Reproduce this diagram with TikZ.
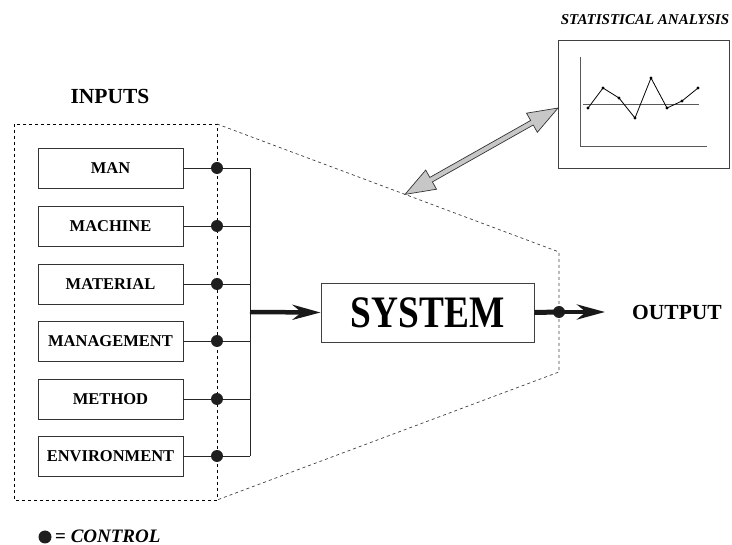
\documentclass[tikz,border=0pt]{standalone}
\usepackage{fontspec}
\setmainfont{Liberation Serif}
\usetikzlibrary{calc,arrows.meta}
\begin{document}
\begin{tikzpicture}[x=1pt,y=-1pt,
  inbox/.style={draw=black!80, line width=0.8pt, minimum width=145pt, minimum height=40pt, inner sep=0pt, font=\fontsize{16.5}{17}\selectfont\bfseries},
  ctrl/.style={circle, fill=black!88, minimum size=12pt, inner sep=0pt},
  wire/.style={line width=0.9pt, black!85},
  bigarrow/.style={line width=4.5pt, black!90, -{Stealth[length=28pt,width=15pt,inset=9pt]}},
  lbl/.style={font=\fontsize{21.5}{22}\selectfont\bfseries},
  dashline/.style={dash pattern=on 3pt off 3pt, line width=0.7pt}]
\useasboundingbox (0,0) rectangle (732,545);

% dashed enclosure
\draw[dashline, black] (14,124) rectangle (217,500);
\draw[dashline, black!75] (217,124) -- (559,252) -- (559,372) -- (217,500);

% labels
\node[lbl] (inputs) at (110,96) {INPUTS};
\node[lbl] (output) at (677,312) {OUTPUT};

% input boxes
\node[inbox] (man)  at (110.5,168) {MAN};
\node[inbox] (mach) at (110.5,226) {MACHINE};
\node[inbox] (mat)  at (110.5,284) {MATERIAL};
\node[inbox] (mgmt) at (110.5,341) {MANAGEMENT};
\node[inbox] (meth) at (110.5,399) {METHOD};
\node[inbox] (env)  at (110.5,456) {ENVIRONMENT};

% bus
\coordinate (bustop) at (250,168);
\coordinate (busbot) at (250,456);
\coordinate (busmid) at (250,312);
\draw[wire] (bustop) -- (busbot);
\foreach \b in {man,mach,mat,mgmt,meth,env}{
  \draw[wire] (\b.east) -- (\b.east -| busmid);
}
\foreach \b/\d in {man/d1,mach/d2,mat/d3,mgmt/d4,meth/d5,env/d6}{
  \node[ctrl] (\d) at (\b.east -| 217,0) {};
}

% system
\node[draw=black!75, line width=0.9pt, minimum width=213pt, minimum height=59pt, inner sep=0pt] (sys) at (427.5,312.5)
  {\scalebox{0.83}[1]{\fontsize{45}{45}\selectfont\bfseries SYSTEM}};
\draw[bigarrow] (busmid) -- (sys.west);
\node[ctrl] (dout) at (559,312) {};
\draw[line width=5pt, black!90] (sys.east) -- (dout.center);
\draw[bigarrow] (dout.center) -- (605,312) coordinate (outtip);

% statistical analysis
\node[font=\fontsize{15}{15}\selectfont\bfseries\itshape] (stattitle) at (645,20) {STATISTICAL ANALYSIS};
\node[draw=black!75, line width=0.9pt, minimum width=171pt, minimum height=128pt, inner sep=0pt] (stat) at (644,104) {};
\draw[black!65, line width=0.8pt] (580,57) -- (580,146) -- (707,146);
\draw[black!65, line width=0.8pt] (583,104) -- (699,104);
\draw[black, line width=0.8pt] (588,108) -- (603,88) -- (619,98) -- (635,118) -- (651,78) -- (667,108) -- (682,101) -- (698,88);
\foreach \p in {(588,108),(603,88),(619,98),(635,118),(651,78),(667,108),(682,101),(698,88)}
  \fill \p circle (1.6pt);

% double arrow
\coordinate (arrA) at (405,194.4);
\coordinate (arrB) at (stat.west |- 0,108);
\coordinate (pA) at ($(arrA)!30pt!(arrB)$);
\coordinate (pB) at ($(arrB)!30pt!(arrA)$);
\filldraw[fill=black!22, draw=black!80, line width=0.7pt, line join=miter]
  (arrA) -- ($(pA)!11pt!90:(arrB)$) -- ($(pA)!2.6pt!90:(arrB)$)
  -- ($(pB)!2.6pt!-90:(arrA)$) -- ($(pB)!11pt!-90:(arrA)$) -- (arrB)
  -- ($(pB)!11pt!90:(arrA)$) -- ($(pB)!2.6pt!90:(arrA)$)
  -- ($(pA)!2.6pt!-90:(arrB)$) -- ($(pA)!11pt!-90:(arrB)$) -- cycle;

% legend
\node[ctrl, minimum size=13pt] (leg) at (45,537) {};
\node[anchor=west, font=\fontsize{19}{19}\selectfont\bfseries, inner sep=0pt] (legtxt) at (55,536) {= \itshape CONTROL};
\end{tikzpicture}
\end{document}
